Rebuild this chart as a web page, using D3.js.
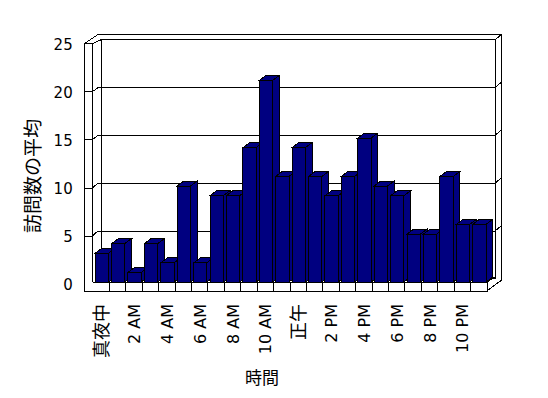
<!DOCTYPE html>
<meta charset="utf-8">
<style>
body { margin: 0; background: #fff; }
.chart text { font-family: "DejaVu Sans", "Noto Sans CJK JP", sans-serif; fill: #000; }
.chart path, .chart line, .chart rect { shape-rendering: crispEdges; }
.wall { fill: #fff; stroke: #000; stroke-width: 1; }
.edge { fill: none; stroke: #000; stroke-width: 1; }
.bar path { fill: #000080; stroke: #000; stroke-width: 1; stroke-linejoin: miter; }
</style>
<svg class="chart" width="548" height="398"></svg>
<script src="https://cdn.jsdelivr.net/npm/d3@7/dist/d3.min.js"></script>
<script>

// categories (hours) and average visits
var hours = ["真夜中", "1 AM", "2 AM", "3 AM", "4 AM", "5 AM", "6 AM", "7 AM", "8 AM", "9 AM", "10 AM", "11 AM",
             "正午", "1 PM", "2 PM", "3 PM", "4 PM", "5 PM", "6 PM", "7 PM", "8 PM", "9 PM", "10 PM", "11 PM"];
var visits = [3, 4, 1, 4, 2, 10, 2, 9, 9, 14, 21, 11, 14, 11, 9, 11, 15, 10, 9, 5, 5, 11, 6, 6];
var yTicks = [0, 5, 10, 15, 20, 25];
var xLabels = ["真夜中", "2 AM", "4 AM", "6 AM", "8 AM", "10 AM", "正午", "2 PM", "4 PM", "6 PM", "8 PM", "10 PM"];
var yTitle = "訪問数の平均";
var xTitle = "時間";

var svg = d3.select(".chart");

// front plane / back wall geometry
var x = d3.scaleBand().domain(hours).range([93, 487]);
var yBar = d3.scaleLinear().domain([0, 25]).range([282, 42]);      // bar front faces
var yAx = d3.scaleLinear().domain([0, 25]).range([283.6, 43.4]);   // left wall front face
var yBack = d3.scaleLinear().domain([0, 25]).range([278.8, 39.8]); // back wall

var wallL = 84.7, wallR = 92.7;
var backL = 101, backR = 495;
var thick = [6.7, -5.6];   // back wall thickness
var depth = [6.7, -5];     // bar depth
var floorTop = yBar(0), floorBot = 291;
var xEnd = x.range()[1];

var line = d3.line();
var g = svg.append("g");

// top of walls
g.append("path").attr("class", "wall")
  .attr("d", line([[wallL, yAx(25)], [wallR, yAx(25)], [backL, yBack(25)], [backR, yBack(25)],
                   [backR + thick[0], yBack(25) + thick[1]], [98.5, yBack(25) + thick[1]]]) + "Z");
// back wall right side
g.append("path").attr("class", "wall")
  .attr("d", line([[backR, yBack(25)], [backR + thick[0], yBack(25) + thick[1]],
                   [backR + thick[0], yBack(0) + 1.2], [xEnd, floorBot], [xEnd, floorTop], [backR, yBack(0) - 1.8]]) + "Z");
// back wall inner face
g.append("rect").attr("class", "wall")
  .attr("x", backL).attr("y", yBack(25))
  .attr("width", backR - backL).attr("height", yBack(0) - yBack(25));
// left wall front face
g.append("path").attr("class", "wall")
  .attr("d", line([[wallL, yAx(25)], [wallR, yAx(25)], [wallR, floorTop], [wallL, floorTop]]) + "Z");
// floor front face
g.append("path").attr("class", "wall")
  .attr("d", line([[wallL, floorTop], [xEnd, floorTop], [xEnd, floorBot], [wallL, floorBot]]) + "Z")
  .style("stroke", "none");
g.append("path").attr("class", "edge")
  .attr("d", line([[wallR, floorTop], [xEnd, floorTop], [xEnd, floorBot], [wallL, floorBot], [wallL, yAx(25)]]));
g.append("path").attr("class", "edge")
  .attr("d", line([[xEnd, floorTop], [backR, yBack(0) - 1.8]]));

// gridlines
var grid = yTicks.filter(function(v) { return v > 0 && v < 25; });
g.selectAll(".grid").data(grid).enter().append("path")
  .attr("class", "edge grid")
  .attr("d", function(v) {
    return line([[wallR, yAx(v)], [backL - 3, yBack(v)], [backR, yBack(v)],
                 [backR + thick[0], yBack(v) + thick[1]]]);
  });

// floor dividers
g.selectAll(".div").data(hours.slice(1)).enter().append("line")
  .attr("class", "edge div")
  .attr("x1", function(d) { return x(d); }).attr("x2", function(d) { return x(d); })
  .attr("y1", floorTop).attr("y2", floorBot);

// bars, left to right
var bw = x.step() * 0.81, bo = x.step() * 0.13;
var bars = g.selectAll(".bar").data(visits).enter().append("g").attr("class", "bar");
bars.each(function(v, i) {
  var b = d3.select(this);
  var x0 = x(hours[i]) + bo, x1 = x0 + bw, y0 = yBar(0), y1 = yBar(v);
  var dx = depth[0], dy = depth[1];
  b.append("path").attr("d", line([[x1, y0], [x1 + dx, y0 + dy], [x1 + dx, y1 + dy], [x1, y1]]) + "Z");
  b.append("path").attr("d", line([[x0, y1], [x1, y1], [x1 + dx, y1 + dy], [x0 + dx, y1 + dy]]) + "Z");
  b.append("path").attr("d", line([[x0, y0], [x1, y0], [x1, y1], [x0, y1]]) + "Z");
});

// y axis
var yAxis = d3.axisLeft(yAx).tickValues(yTicks).tickSize(-(wallR - wallL)).tickPadding(12);
var ya = svg.append("g").attr("transform", "translate(" + wallL + ",0)").call(yAxis);
ya.select(".domain").remove();
ya.selectAll(".tick line").attr("stroke", function(d) { return (d > 0 && d < 25) ? "#000" : "none"; });
ya.selectAll("text").attr("font-size", 15).attr("dy", "0.4em").style("font-family", "'DejaVu Sans', sans-serif");

// x axis labels
var xAxis = d3.axisBottom(x).tickValues(xLabels).tickSize(0);
var xa = svg.append("g").attr("transform", "translate(0,304)").call(xAxis);
xa.select(".domain").remove();
xa.selectAll("text")
  .attr("transform", "rotate(-90)")
  .attr("x", 0).attr("y", 0).attr("dy", "0.38em")
  .attr("text-anchor", "end")
  .attr("font-size", function(d) { return /[^\x00-\x7F]/.test(d) ? 18 : 16; });

// titles
svg.append("text")
  .attr("transform", "translate(33,176) rotate(-90)")
  .attr("text-anchor", "middle").attr("dy", "0.35em")
  .attr("font-size", 19)
  .text(yTitle);

svg.append("text")
  .attr("x", 262).attr("y", 378).attr("dy", "0.35em")
  .attr("text-anchor", "middle")
  .attr("font-size", 17)
  .text(xTitle);

</script>
